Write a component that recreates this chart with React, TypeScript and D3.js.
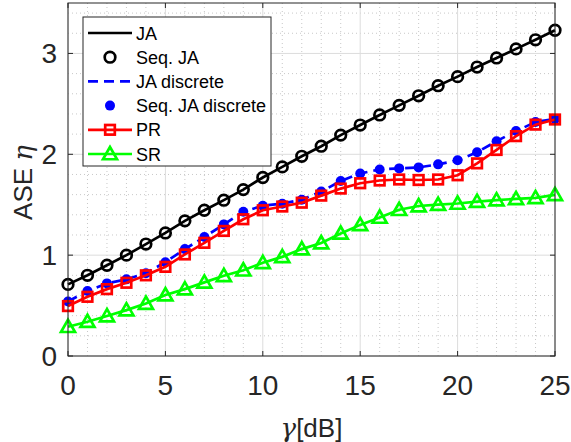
import React from "react";
import * as d3 from "d3";

const gammaDb = d3.range(0, 26);
const jaValues = [0.71, 0.8, 0.9, 1.0, 1.11, 1.22, 1.34, 1.445, 1.545, 1.65, 1.77, 1.875, 1.98, 2.08, 2.19, 2.29, 2.39, 2.485, 2.58, 2.68, 2.77, 2.865, 2.955, 3.045, 3.135, 3.23];
const seqJaValues = jaValues.slice();
const jaDiscreteValues = [0.54, 0.645, 0.72, 0.76, 0.82, 0.93, 1.06, 1.18, 1.305, 1.43, 1.49, 1.51, 1.55, 1.63, 1.735, 1.81, 1.85, 1.86, 1.87, 1.9, 1.94, 2.02, 2.13, 2.23, 2.32, 2.35];
const seqJaDiscreteValues = jaDiscreteValues.slice();
const prValues = [0.495, 0.587, 0.663, 0.726, 0.8, 0.884, 1.007, 1.122, 1.24, 1.356, 1.445, 1.482, 1.52, 1.59, 1.66, 1.713, 1.74, 1.75, 1.745, 1.75, 1.792, 1.91, 2.043, 2.18, 2.294, 2.345];
const srValues = [0.29, 0.34, 0.396, 0.455, 0.52, 0.604, 0.663, 0.73, 0.795, 0.85, 0.924, 0.983, 1.06, 1.12, 1.215, 1.3, 1.373, 1.45, 1.487, 1.5, 1.512, 1.53, 1.545, 1.558, 1.568, 1.597];
const xTicks = [0, 5, 10, 15, 20, 25];
const yTicks = [0, 1, 2, 3];
const legendLabels = ["JA", "Seq. JA", "JA discrete", "Seq. JA discrete", "PR", "SR"];

const W = 571, H = 442;
const L = 68, R = 555, T = 3, B = 356;
const AX = "#262626";
const FONT = "'Liberation Sans', Arial, Helvetica, sans-serif";

function Marker({ kind, x, y }: { kind: string; x: number; y: number }) {
  if (kind === "circle")
    return <circle cx={x} cy={y} r={5.3} fill="none" stroke="#000" strokeWidth={2.7} />;
  if (kind === "dot") return <circle cx={x} cy={y} r={5} fill="#0000ff" />;
  if (kind === "square")
    return <rect x={x - 4.8} y={y - 4.8} width={9.6} height={9.6} fill="none" stroke="#ff0000" strokeWidth={2.7} />;
  if (kind === "tri") {
    const s = 7;
    const p = `${x},${y - s} ${x - s},${y + s * 0.75} ${x + s},${y + s * 0.75}`;
    return <polygon points={p} fill="none" stroke="#00ff00" strokeWidth={2.7} strokeLinejoin="miter" />;
  }
  return null;
}

export default function App() {
  const x = d3.scaleLinear().domain([0, 25]).range([L, R]);
  const y = d3.scaleLinear().domain([0, 3.5]).range([B, T]);
  const line = d3
    .line<number>()
    .x((_, i) => x(gammaDb[i]))
    .y((v) => y(v));

  const minorX = d3.range(0, 26).filter((v) => v % 5 !== 0);
  const minorY = d3.range(1, 18).map((v) => v * 0.2).filter((v) => Math.abs(v - Math.round(v)) > 1e-6);

  const series = [
    { vals: jaValues, stroke: "#000", dash: null, marker: null, line: true },
    { vals: seqJaValues, stroke: "#000", dash: null, marker: "circle", line: false },
    { vals: jaDiscreteValues, stroke: "#0000ff", dash: "10,6", marker: null, line: true },
    { vals: seqJaDiscreteValues, stroke: "#0000ff", dash: null, marker: "dot", line: false },
    { vals: prValues, stroke: "#ff0000", dash: null, marker: "square", line: true },
    { vals: srValues, stroke: "#00ff00", dash: null, marker: "tri", line: true },
  ];

  const legendKinds = [
    { stroke: "#000", dash: null, marker: null, line: true },
    { stroke: "#000", dash: null, marker: "circle", line: false },
    { stroke: "#0000ff", dash: "10,6", marker: null, line: true },
    { stroke: "#0000ff", dash: null, marker: "dot", line: false },
    { stroke: "#ff0000", dash: null, marker: "square", line: true },
    { stroke: "#00ff00", dash: null, marker: "tri", line: true },
  ];

  return (
    <svg width={W} height={H} style={{ position: "absolute", left: 0, top: 0, background: "#fff" }} fontFamily={FONT}>
      <rect x={0} y={0} width={W} height={H} fill="#fff" />
      {/* minor grid */}
      <g stroke="#c8c8c8" strokeWidth={1} strokeDasharray="1,3">
        {minorX.map((v) => (
          <line key={"mx" + v} x1={x(v)} x2={x(v)} y1={T} y2={B} />
        ))}
        {minorY.map((v) => (
          <line key={"my" + v} x1={L} x2={R} y1={y(v)} y2={y(v)} />
        ))}
      </g>
      {/* major grid */}
      <g stroke="#dcdcdc" strokeWidth={1}>
        {xTicks.map((v) => (
          <line key={"gx" + v} x1={x(v)} x2={x(v)} y1={T} y2={B} />
        ))}
        {yTicks.map((v) => (
          <line key={"gy" + v} x1={L} x2={R} y1={y(v)} y2={y(v)} />
        ))}
      </g>
      {/* series */}
      {series.map((s, i) => (
        <g key={"s" + i}>
          {s.line && (
            <path d={line(s.vals) || ""} fill="none" stroke={s.stroke} strokeWidth={2.7} strokeDasharray={s.dash || undefined} />
          )}
          {s.marker && s.vals.map((v, j) => <Marker key={j} kind={s.marker as string} x={x(gammaDb[j])} y={y(v)} />)}
        </g>
      ))}
      {/* axes box */}
      <rect x={L} y={T} width={R - L} height={B - T} fill="none" stroke={AX} strokeWidth={1} />
      <g stroke={AX} strokeWidth={1}>
        {xTicks.map((v) => (
          <g key={"tx" + v}>
            <line x1={x(v)} x2={x(v)} y1={B} y2={B - 5} />
            <line x1={x(v)} x2={x(v)} y1={T} y2={T + 5} />
          </g>
        ))}
        {yTicks.map((v) => (
          <g key={"ty" + v}>
            <line x1={L} x2={L + 5} y1={y(v)} y2={y(v)} />
            <line x1={R} x2={R - 5} y1={y(v)} y2={y(v)} />
          </g>
        ))}
      </g>
      <g fill={AX} fontSize={28}>
        {xTicks.map((v) => (
          <text key={"lx" + v} x={x(v)} y={395} textAnchor="middle">
            {v}
          </text>
        ))}
        {yTicks.map((v) => (
          <text key={"ly" + v} x={57} y={y(v) + 10} textAnchor="end">
            {v}
          </text>
        ))}
      </g>
      <text x={(L + R) / 2} y={437} textAnchor="middle" fill={AX} fontSize={26}>
        <tspan fontFamily="'DejaVu Serif', serif" fontStyle="italic">γ</tspan>[dB]
      </text>
      <text transform={`translate(32,${(T + B) / 2 + 3}) rotate(-90)`} textAnchor="middle" fill={AX} fontSize={26}>
        ASE <tspan fontFamily="'DejaVu Serif', serif" fontStyle="italic">η</tspan>
      </text>
      {/* legend */}
      <rect x={83} y={17} width={188} height={149} fill="#fff" stroke={AX} strokeWidth={1} />
      {legendLabels.map((lab, i) => {
        const cy = 33 + i * 24.2;
        const k = legendKinds[i];
        return (
          <g key={"lg" + i}>
            {k.line && (
              <line x1={88} x2={132} y1={cy} y2={cy} stroke={k.stroke} strokeWidth={2.7} strokeDasharray={k.dash || undefined} />
            )}
            {k.marker && <Marker kind={k.marker} x={110} y={cy} />}
            <text x={136} y={cy + 6.5} fontSize={18} fill="#000">
              {lab}
            </text>
          </g>
        );
      })}
    </svg>
  );
}
